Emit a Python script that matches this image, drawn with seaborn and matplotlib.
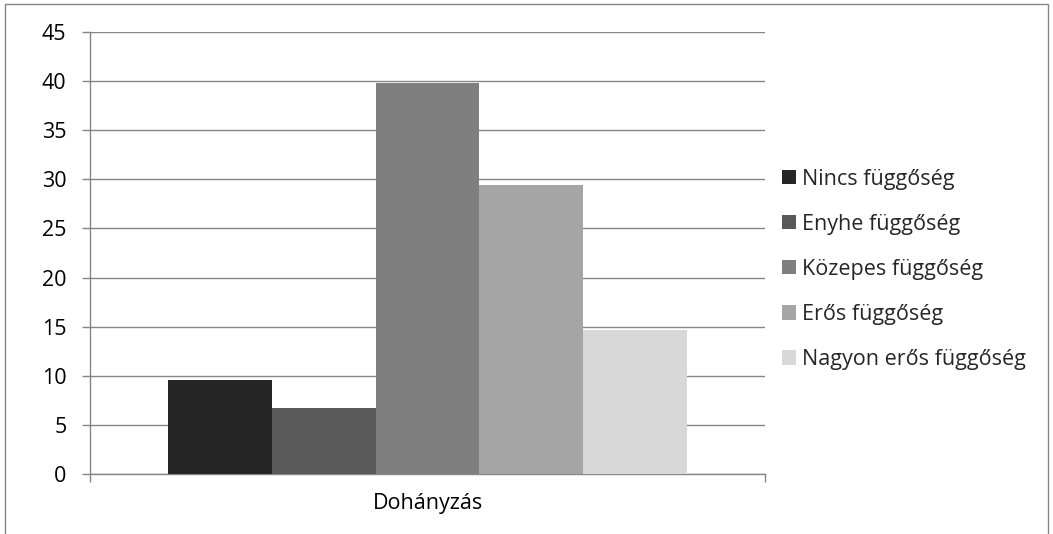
import matplotlib
matplotlib.use("Agg")
import matplotlib.pyplot as plt
from matplotlib.patches import Rectangle, Patch
import seaborn as sns
import pandas as pd

categories = ["Dohányzás"]
series = ["Nincs függőség", "Enyhe függőség", "Közepes függőség",
          "Erős függőség", "Nagyon erős függőség"]
values = [9.6, 6.7, 39.8, 29.4, 14.7]
colors = ["#262626", "#595959", "#7f7f7f", "#a5a5a5", "#d8d8d8"]
yticks = [0, 5, 10, 15, 20, 25, 30, 35, 40, 45]

df = pd.DataFrame({
    "kategoria": categories * len(series),
    "sorozat": series,
    "ertek": values,
})

sns.set_theme(style="white")
plt.rcParams["font.family"] = ["Open Sans", "DejaVu Sans"]

W, H = 1053, 534
FS = 15.5
fig = plt.figure(figsize=(W / 100, H / 100), dpi=100)
ax = fig.add_axes([90 / W, 1 - 474 / H, (765 - 90) / W, (474 - 32) / H])

grid_c = "#868686"
sns.barplot(data=df, x="kategoria", y="ertek", hue="sorozat",
            hue_order=series, palette=colors, saturation=1,
            width=0.769, linewidth=0, ax=ax, legend=False, zorder=3)

ax.set_xlim(-0.5, 0.5)
ax.set_ylim(0, 45)
ax.set_yticks(yticks)
ax.set_yticklabels([str(t) for t in yticks], fontsize=FS, color="#000000")
ax.yaxis.grid(True, color=grid_c, linewidth=1)
ax.set_axisbelow(True)

# category label at the center, tick marks at the category borders
ax.set_xticks([0])
ax.set_xticklabels(categories, fontsize=FS, color="#000000")
ax.tick_params(axis="x", which="major", length=0, pad=13.5)
ax.set_xticks([-0.5, 0.5], minor=True)
ax.tick_params(axis="x", which="minor", length=6, width=1, color=grid_c,
               direction="out", bottom=True)
ax.tick_params(axis="y", length=6, width=1, color=grid_c, direction="out",
               left=True, pad=11)
ax.set_xlabel("")
ax.set_ylabel("")

for side in ["top", "right"]:
    ax.spines[side].set_visible(False)
for side in ["left", "bottom"]:
    ax.spines[side].set_color(grid_c)
    ax.spines[side].set_linewidth(1)

handles = [Patch(facecolor=c, edgecolor="none") for c in colors]
fig.legend(handles, series, loc="upper left",
           bbox_to_anchor=(773 / W, 1 - 160 / H), frameon=False,
           fontsize=FS, handlelength=0.65, handleheight=0.65,
           handletextpad=0.3, labelspacing=1.12, borderaxespad=0)

# chart area border
fig.patches.append(Rectangle((5 / W, -0.05), (1048 - 5) / W, 1.05 - 4 / H,
                             transform=fig.transFigure, fill=False,
                             edgecolor=grid_c, linewidth=1))

fig.savefig("out.png", dpi=100)
